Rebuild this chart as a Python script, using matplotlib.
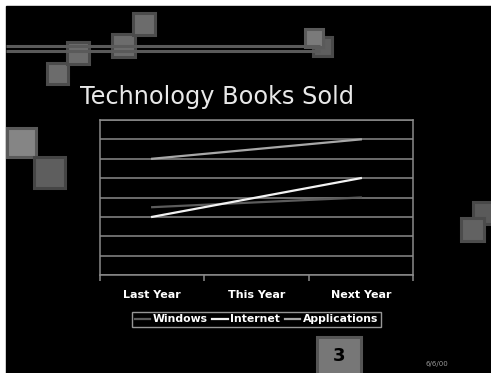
import matplotlib
matplotlib.use("Agg")
import matplotlib.pyplot as plt
from matplotlib.patches import Rectangle

# data
years = ["Last Year", "This Year", "Next Year"]
windows = [3.5, 3.75, 4.0]
internet = [3.0, 4.0, 5.0]
applications = [6.0, 6.5, 7.0]

W, H = 491, 373
fig = plt.figure(figsize=(W / 100, H / 100), dpi=100, facecolor="white")

# slide background + decorations (pixel coords)
bg = fig.add_axes([0, 0, 1, 1])
bg.set_xlim(0, W)
bg.set_ylim(H, 0)
bg.axis("off")
bg.add_patch(Rectangle((6, 6), W - 6, H - 6, color="black"))

# double rule across the top
bg.plot([6, 320], [46, 46], color="#5a5a5a", lw=2.2, solid_capstyle="butt")
bg.plot([6, 320], [50.5, 50.5], color="#5a5a5a", lw=2.2, solid_capstyle="butt")

def square(x, y, s, fill="#6c6c6c", edge="#4c4c4c"):
    bg.add_patch(Rectangle((x, y), s, s, facecolor=fill, edgecolor=edge, lw=2.2))

square(313, 37, 19, "#5e5e5e", "#4a4a4a")
square(305, 29, 18, "#7a7a7a", "#5a5a5a")
square(47, 63, 21)
square(67, 42, 22)
square(112, 34, 23)
square(133, 13, 22)
square(7, 128, 29, "#858585", "#5a5a5a")
square(34, 157, 31, "#5e5e5e", "#454545")
square(473, 202, 22, "#5a5a5a", "#484848")
square(461, 218, 23, "#626262", "#4c4c4c")
square(317, 337, 44, "#777777", "#555555")
bg.text(339, 356, "3", color="black", fontsize=13, fontweight="bold",
        ha="center", va="center")
bg.text(437, 364, "6/6/00", color="#9a9a9a", fontsize=5, ha="center", va="center")

bg.text(80, 97, "Technology Books Sold", color="#e8e8e8", fontsize=17.3,
        ha="left", va="center")

# chart
ax = fig.add_axes([100 / W, (H - 275) / H, 313 / W, 155 / H])
ax.set_facecolor("black")
x = range(len(years))
ax.plot(x, windows, color="#5c5c5c", lw=1.6, label="Windows")
ax.plot(x, internet, color="#f2f2f2", lw=1.6, label="Internet")
ax.plot(x, applications, color="#a8a8a8", lw=1.6, label="Applications")

ax.set_xlim(-0.5, 2.5)
ax.set_ylim(0, 8)
ax.set_yticks(range(0, 9))
ax.yaxis.grid(True, color="#8a8a8a", lw=1.1)
ax.tick_params(axis="y", length=0, labelleft=False)
ax.set_xticks(list(x))
ax.set_xticklabels(years, color="white", fontsize=8, fontweight="bold")
ax.set_xticks([-0.5, 0.5, 1.5, 2.5], minor=True)
ax.tick_params(axis="x", which="major", length=0, pad=11)
ax.tick_params(axis="x", which="minor", length=4, color="#8a8a8a", width=1.1)
for s in ax.spines.values():
    s.set_color("#8a8a8a")
    s.set_linewidth(1.1)

leg = fig.legend(loc="center", bbox_to_anchor=(256.5 / W, 1 - 319.5 / H),
                 ncol=3, frameon=True, fancybox=False,
                 handlelength=1.4, handletextpad=0.25, columnspacing=0.45,
                 borderpad=0.25, borderaxespad=0,
                 prop={"weight": "bold", "size": 7.8})
leg.get_frame().set_facecolor("black")
leg.get_frame().set_edgecolor("#bdbdbd")
leg.get_frame().set_linewidth(1)
for t in leg.get_texts():
    t.set_color("white")

fig.savefig("out.png", dpi=100, facecolor=fig.get_facecolor())
